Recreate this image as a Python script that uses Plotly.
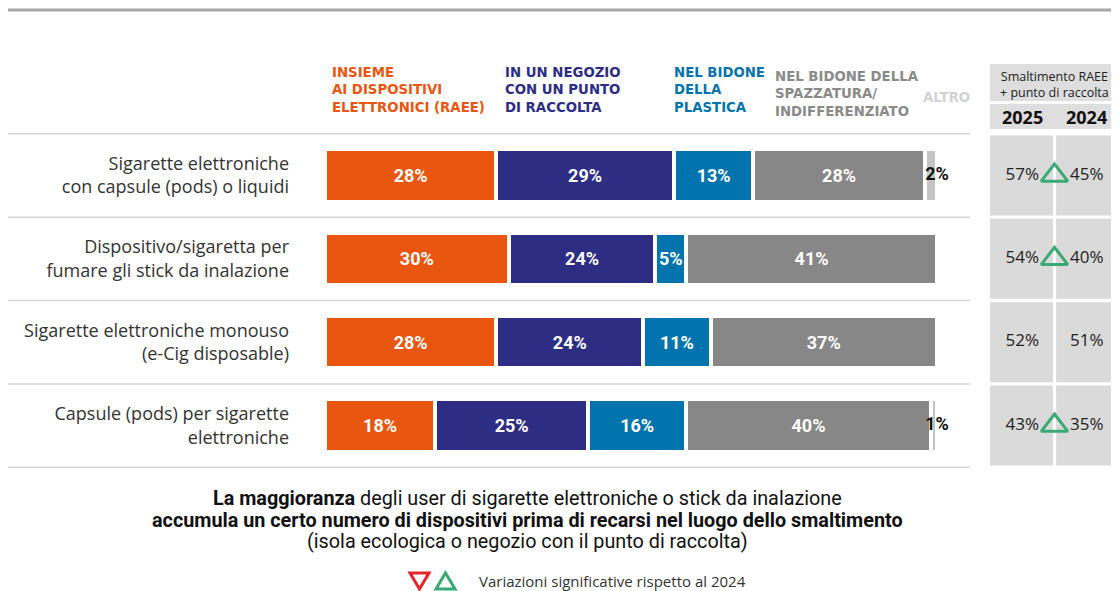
import plotly.graph_objects as go

# Dati
categorie = [
    "Sigarette elettroniche<br>con capsule (pods) o liquidi",
    "Dispositivo/sigaretta per<br>fumare gli stick da inalazione",
    "Sigarette elettroniche monouso<br>(e-Cig disposable)",
    "Capsule (pods) per sigarette<br>elettroniche",
]
raee = [28, 30, 28, 18]
negozio = [29, 24, 24, 25]
plastica = [13, 5, 11, 16]
indifferenziato = [28, 41, 37, 40]
altro = [2, 0, 0, 1]

serie_nomi = [
    "INSIEME<br>AI DISPOSITIVI<br>ELETTRONICI (RAEE)",
    "IN UN NEGOZIO<br>CON UN PUNTO<br>DI RACCOLTA",
    "NEL BIDONE<br>DELLA<br>PLASTICA",
    "NEL BIDONE DELLA<br>SPAZZATURA/<br>INDIFFERENZIATO",
    "ALTRO",
]
serie_valori = [raee, negozio, plastica, indifferenziato, altro]
colori = ["#E8560F", "#2E2D84", "#0274AD", "#878787", "#C4C4C4"]
colori_titoli = ["#E8560F", "#2E2D84", "#0274AD", "#8A8A8A", "#D2D2D2"]

anni = ["2025", "2024"]
val_2025 = [57, 54, 52, 43]
val_2024 = [45, 40, 51, 35]
variazione = ["up", "up", None, "up"]

# La pagina HTML ha un margine di 8px: la figura parte da (8, 8)
OFF = 8
W, H = 1119 - OFF, 591 - OFF


def px_x(x):
    return (x - OFF) / W


def px_y(y):
    return 1 - (y - OFF) / H


FONT_TXT = "Open Sans"
FONT_NUM = "Roboto"

fig = go.Figure()

# Barre impilate
for nome, valori, colore in zip(serie_nomi, serie_valori, colori):
    ultimo = nome == "ALTRO"
    fig.add_trace(go.Bar(
        y=categorie,
        x=valori,
        orientation="h",
        name=nome,
        width=0.63,
        marker=dict(color=colore, line=dict(color="white", width=4)),
        text=None if ultimo else [f"{v}%" if v else "" for v in valori],
        textposition="inside",
        insidetextanchor="middle",
        textangle=0,
        constraintext="none",
        textfont=dict(family=FONT_NUM, size=18, weight="bold", color="white"),
        showlegend=False,
        hoverinfo="skip",
    ))

# Etichette "ALTRO" a fine barra
totali = [a + b + c + d + e for a, b, c, d, e in zip(*serie_valori)]
alt_cat = [c for c, v in zip(categorie, altro) if v]
alt_x = [t for t, v in zip(totali, altro) if v]
alt_txt = [f"{v}%" for v in altro if v]
fig.add_trace(go.Scatter(
    x=alt_x, y=alt_cat, mode="text", text=alt_txt,
    textposition="middle center", cliponaxis=False,
    textfont=dict(family=FONT_NUM, size=18, weight="bold", color="#111"),
    showlegend=False, hoverinfo="skip",
))

# Tabella a destra: testi e triangoli di variazione
for cx, valori in zip([0.5, 1.5], [val_2025, val_2024]):
    fig.add_trace(go.Scatter(
        x=[cx] * len(categorie), y=categorie, xaxis="x2", yaxis="y",
        mode="text", text=[f"{v}%" for v in valori],
        textfont=dict(family=FONT_TXT, size=17, color="#222"),
        showlegend=False, hoverinfo="skip",
    ))
sig = [c for c, v in zip(categorie, variazione) if v == "up"]
fig.add_trace(go.Scatter(
    x=[1.0] * len(sig), y=sig, xaxis="x2", yaxis="y",
    mode="markers",
    marker=dict(symbol="triangle-up-open", size=23, color="#3AAA74",
                line=dict(width=3, color="#3AAA74")),
    cliponaxis=False, showlegend=False, hoverinfo="skip",
))

shapes = []
# Linea superiore
shapes.append(dict(type="line", xref="paper", yref="paper",
                   x0=px_x(8), x1=1, y0=px_y(10), y1=px_y(10),
                   line=dict(color="#A8A8A8", width=3)))
# Separatori di riga
for i in range(len(categorie) + 1):
    shapes.append(dict(type="line", xref="paper", yref="y",
                       x0=px_x(8), x1=px_x(970), y0=i - 0.5, y1=i - 0.5,
                       line=dict(color="#D6D6D6", width=1.5), layer="below"))
# Celle della tabella
for i in range(len(categorie)):
    for c0, c1 in [(0, 0.975), (1.025, 2)]:
        shapes.append(dict(type="rect", xref="x2", yref="y",
                           x0=c0, x1=c1, y0=i - 0.48, y1=i + 0.48,
                           fillcolor="#DADADA", line=dict(width=0), layer="below"))
# Intestazione tabella
shapes.append(dict(type="rect", xref="paper", yref="paper",
                   x0=px_x(990), x1=1, y0=px_y(101), y1=px_y(64),
                   fillcolor="#DEDEDE", line=dict(width=0), layer="below"))
shapes.append(dict(type="rect", xref="paper", yref="paper",
                   x0=px_x(990), x1=1, y0=px_y(129), y1=px_y(104),
                   fillcolor="#DEDEDE", line=dict(width=0), layer="below"))
# Triangoli della legenda
shapes.append(dict(type="path", xref="paper", yref="paper",
                   path=f"M {px_x(410)} {px_y(573)} L {px_x(429)} {px_y(573)} "
                        f"L {px_x(419.5)} {px_y(589)} Z",
                   line=dict(color="#E3252B", width=3)))
shapes.append(dict(type="path", xref="paper", yref="paper",
                   path=f"M {px_x(436)} {px_y(589)} L {px_x(455)} {px_y(589)} "
                        f"L {px_x(445.5)} {px_y(573)} Z",
                   line=dict(color="#3AAA74", width=3)))

annotations = []
# Titoli delle serie
titoli_x = [330, 503, 672, 773, 921]
titoli_y = [63, 63, 63, 67, 88]
for nome, col, tx, ty in zip(serie_nomi, colori_titoli, titoli_x, titoli_y):
    annotations.append(dict(
        text=nome, x=px_x(tx), y=px_y(ty), xref="paper", yref="paper",
        xanchor="left", yanchor="top", align="left", showarrow=False,
        font=dict(family="DejaVu Sans", size=13.3, weight="bold", color=col),
    ))
# Intestazione tabella
annotations.append(dict(
    text="Smaltimento RAEE<br>+ punto di raccolta", x=px_x(1054), y=px_y(85),
    xref="paper", yref="paper", xanchor="center", yanchor="middle",
    showarrow=False, align="center",
    font=dict(family=FONT_TXT, size=12.5, color="#222"),
))
for anno, cx in zip(anni, [0.5, 1.5]):
    annotations.append(dict(
        text=f"<b>{anno}</b>", x=cx, y=px_y(117), xref="x2", yref="paper",
        xanchor="center", yanchor="middle", showarrow=False,
        font=dict(family=FONT_TXT, size=18, color="#111"),
    ))
# Nota in basso
note = [
    "<b>La maggioranza</b> degli user di sigarette elettroniche o stick da inalazione",
    "<b>accumula un certo numero di dispositivi prima di recarsi nel luogo dello smaltimento</b>",
    "(isola ecologica o negozio con il punto di raccolta)",
]
for riga, ny in zip(note, [498, 520, 541]):
    annotations.append(dict(
        text=riga, x=px_x(527), y=px_y(ny), xref="paper", yref="paper",
        xanchor="center", yanchor="middle", showarrow=False,
        font=dict(family=FONT_NUM, size=19.8, color="#111"),
    ))
annotations.append(dict(
    text="Variazioni significative rispetto al 2024", x=px_x(477), y=px_y(581),
    xref="paper", yref="paper", xanchor="left", yanchor="middle",
    showarrow=False, font=dict(family=FONT_TXT, size=15, color="#333"),
))

fig.update_layout(
    width=W, height=H,
    margin=dict(l=0, r=0, t=0, b=0),
    paper_bgcolor="white", plot_bgcolor="white",
    barmode="stack",
    xaxis=dict(domain=[px_x(325), px_x(937)], range=[0, 100],
               visible=False, fixedrange=True),
    xaxis2=dict(domain=[px_x(990), 1], range=[0, 2], visible=False,
                anchor="y", fixedrange=True),
    yaxis=dict(domain=[px_y(468), px_y(133)], categoryorder="array",
               categoryarray=categorie, autorange="reversed",
               showgrid=False, zeroline=False, showline=False, ticks="",
               ticklabelstandoff=35,
               tickfont=dict(family=FONT_TXT, size=18, color="#333")),
    shapes=shapes,
    annotations=annotations,
)

fig.write_html("out.html")
